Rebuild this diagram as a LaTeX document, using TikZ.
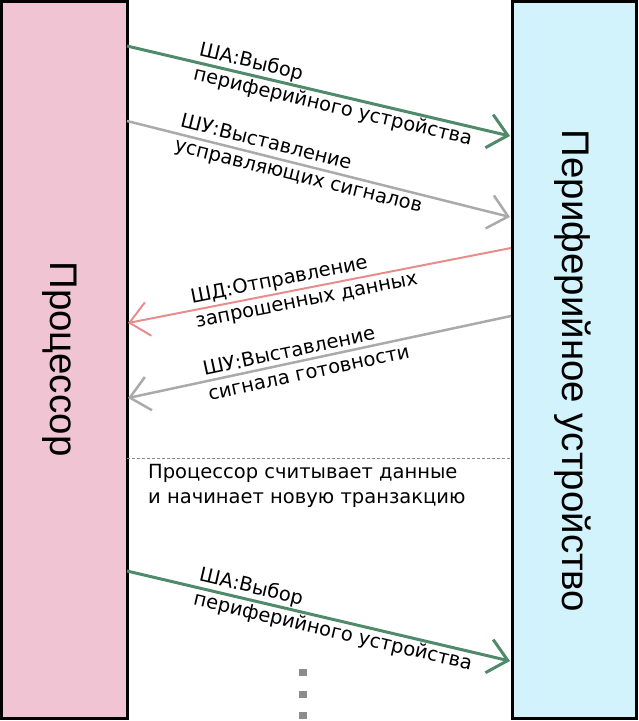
\documentclass[tikz,border=0pt]{standalone}
\usepackage{fontspec}
\setmainfont{DejaVu Sans}
\newfontfamily\bigfont{Liberation Sans}
\usetikzlibrary{arrows.meta}
\definecolor{procfill}{HTML}{F0C4D2}
\definecolor{devfill}{HTML}{D2F2FC}
\definecolor{addrgreen}{HTML}{4F8A6B}
\definecolor{ctrlgray}{HTML}{AAAAAA}
\definecolor{datapink}{HTML}{E88C8C}
\definecolor{dotgray}{HTML}{8C8C8C}
\definecolor{sepgray}{HTML}{8A8A8A}
\begin{document}
\begin{tikzpicture}[x=1pt,y=-1pt,
  unitbox/.style={draw=black, line width=3pt, minimum height=717pt, inner sep=0pt},
  bigtext/.style={rotate=-90, anchor=base, font=\bigfont\fontsize{38.5}{42}\selectfont},
  busarrow/.style={line width=#1, -{Straight Barb[length=19pt,width=34pt]}},
  lbl/.style={sloped, font=\fontsize{19.5}{25}\selectfont, align=left, inner sep=0pt}
]
\useasboundingbox (0,0) rectangle (638,721);
\node[unitbox, fill=procfill, minimum width=126pt] (proc) at (64.5,360) {};
\node[unitbox, fill=devfill, minimum width=124.5pt] (dev) at (574.25,360) {};
\node[bigtext] (proclbl) at (50,359) {Процессор};
\node[bigtext] (devlbl) at (562,371) {Периферийное устройство};

\coordinate (a1s) at (127,46);  \coordinate (a1e) at (510,136);
\coordinate (a2s) at (127,121); \coordinate (a2e) at (510,217);
\coordinate (a3s) at (511,248); \coordinate (a3e) at (128,323);
\coordinate (a4s) at (511,316); \coordinate (a4e) at (128,398);
\coordinate (a5s) at (127,571); \coordinate (a5e) at (510,661);
\coordinate (seps) at (127,458); \coordinate (sepe) at (511,458);

\draw[busarrow=3pt, draw=addrgreen] (a1s) -- node[lbl, pos=0.545] (l1) {ША:Выбор\\периферийного устройства} (a1e);
\draw[busarrow=2.5pt, draw=ctrlgray] (a2s) -- node[lbl, pos=0.455] (l2) {ШУ:Выставление\\усправляющих сигналов} (a2e);
\draw[busarrow=2pt, draw=datapink] (a3s) -- node[lbl, pos=0.54] (l3) {ШД:Отправление\\запрошенных данных} (a3e);
\draw[busarrow=2.5pt, draw=ctrlgray] (a4s) -- node[lbl, pos=0.535] (l4) {ШУ:Выставление\\сигнала готовности} (a4e);
\draw[sepgray, line width=0.8pt, dash pattern=on 3pt off 2pt] (seps) -- (sepe);
\node[anchor=north west, inner sep=0pt, align=left, font=\fontsize{19.5}{25}\selectfont] (note) at (148,464) {Процессор считывает данные\\и начинает новую транзакцию};
\draw[busarrow=3pt, draw=addrgreen] (a5s) -- node[lbl, pos=0.545] (l5) {ША:Выбор\\периферийного устройства} (a5e);

\fill[dotgray] (299,669) rectangle (307,676);
\fill[dotgray] (299,690.5) rectangle (307,697.5);
\fill[dotgray] (299,712) rectangle (307,719);
\end{tikzpicture}
\end{document}
